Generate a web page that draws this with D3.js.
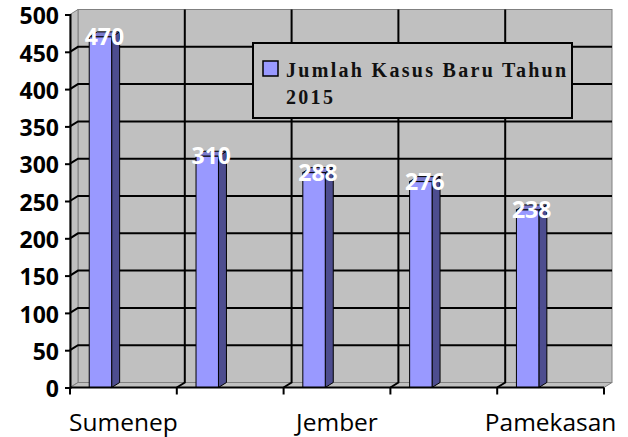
<!DOCTYPE html>
<html>
<head>
<meta charset="utf-8">
<script src="https://cdn.jsdelivr.net/npm/d3@7"></script>
<style>
  body { margin: 0; background: #fff; }
  svg { display: block; }
</style>
</head>
<body>
<svg width="628" height="437"></svg>
<script>
// Data.
const categories = ['Sumenep', 'Sampang', 'Jember', 'Bangkalan', 'Pamekasan'];
const cases = [470, 310, 288, 276, 238];
const shownLabels = ['Sumenep', 'Jember', 'Pamekasan'];
const yTickValues = [0, 50, 100, 150, 200, 250, 300, 350, 400, 450, 500];
const legendLines = ['Jumlah Kasus Baru Tahun', '2015'];

const data = categories.map((c, i) => ({ cat: c, value: cases[i] }));

// 1. Dimensions.
const plotLeft = 70, plotRight = 604, plotTop = 14.5, plotBottom = 387.5;
const dx = 8, dy = 5; // 3D depth offset
const wall = '#c0c0c0', wallEdge = '#808080';

const svg = d3.select('svg');

// 2. Scales.
const xScale = d3.scaleBand().domain(categories).range([plotLeft, plotRight]);
const yScale = d3.scaleLinear().domain([0, 500]).range([plotBottom, plotTop]);
const bw = xScale.bandwidth();

// 3. Walls.
svg.append('rect')
  .attr('x', plotLeft + dx).attr('y', plotTop - dy)
  .attr('width', plotRight - plotLeft).attr('height', plotBottom - plotTop)
  .attr('fill', wall).attr('stroke', wallEdge);

svg.append('polygon')
  .attr('points', [[plotLeft, plotTop], [plotLeft + dx, plotTop - dy], [plotLeft + dx, plotBottom - dy], [plotLeft, plotBottom]].join(' '))
  .attr('fill', wall).attr('stroke', wallEdge);

svg.append('polygon')
  .attr('points', [[plotLeft, plotBottom], [plotLeft + dx, plotBottom - dy], [plotRight + dx, plotBottom - dy], [plotRight, plotBottom]].join(' '))
  .attr('fill', wall).attr('stroke', wallEdge);

// Horizontal gridlines.
const grid = svg.append('g').attr('stroke', '#000').attr('stroke-width', 2).attr('fill', 'none');
grid.selectAll('path.h')
  .data(yTickValues.filter(v => v > 0 && v < 500))
  .enter()
  .append('path')
  .attr('d', v => `M${plotLeft},${yScale(v)}L${plotLeft + dx},${yScale(v) - dy}H${plotRight + dx}`);

// Vertical gridlines at category boundaries.
grid.selectAll('path.v')
  .data(categories.slice(1))
  .enter()
  .append('path')
  .attr('d', c => `M${xScale(c) + dx},${plotTop - dy}V${plotBottom - dy}L${xScale(c)},${plotBottom}`);

// 4. Bars.
const bx = d => xScale(d.cat) + bw * 0.18;
const bwid = bw * 0.21;

const bars = svg.append('g').attr('stroke', '#000').attr('stroke-width', 1);

bars.selectAll('polygon.side')
  .data(data)
  .enter()
  .append('polygon')
  .attr('fill', '#4d4d8f')
  .attr('points', d => {
    const x = bx(d) + bwid, y = yScale(d.value);
    return [[x, y], [x + dx, y - dy], [x + dx, plotBottom - dy], [x, plotBottom]].join(' ');
  });

bars.selectAll('polygon.top')
  .data(data)
  .enter()
  .append('polygon')
  .attr('fill', '#7a7acc')
  .attr('points', d => {
    const x = bx(d), y = yScale(d.value);
    return [[x, y], [x + dx, y - dy], [x + bwid + dx, y - dy], [x + bwid, y]].join(' ');
  });

bars.selectAll('rect')
  .data(data)
  .enter()
  .append('rect')
  .attr('fill', '#9999ff')
  .attr('x', bx)
  .attr('y', d => yScale(d.value))
  .attr('width', bwid)
  .attr('height', d => plotBottom - yScale(d.value));

// 5. Axes.
const yAxis = svg.append('g')
  .attr('transform', `translate(${plotLeft},0)`)
  .call(d3.axisLeft(yScale).tickValues(yTickValues).tickSize(5).tickPadding(6));
yAxis.select('.domain').attr('stroke-width', 2);
yAxis.selectAll('.tick line').attr('stroke-width', 2);
yAxis.selectAll('text')
  .attr('dy', '0.4em')
  .attr('font-family', 'Open Sans')
  .attr('font-weight', 'bold')
  .attr('font-size', 23)
  .attr('fill', '#000');

svg.append('path')
  .attr('d', `M${plotLeft},${plotBottom}H${plotRight}`)
  .attr('stroke', '#000').attr('stroke-width', 2);

svg.selectAll('line.xtick')
  .data(categories.concat(['end']))
  .enter()
  .append('line')
  .attr('x1', (c, i) => plotLeft + i * bw)
  .attr('x2', (c, i) => plotLeft + i * bw)
  .attr('y1', plotBottom)
  .attr('y2', plotBottom + 7)
  .attr('stroke', '#000').attr('stroke-width', 2);

svg.selectAll('text.xlab')
  .data(shownLabels)
  .enter()
  .append('text')
  .text(d => d)
  .attr('x', d => xScale(d) + bw / 2)
  .attr('y', 431)
  .attr('text-anchor', 'middle')
  .attr('font-family', 'Open Sans')
  .attr('font-size', 24.5)
  .attr('fill', '#000');

// 6. Data labels.
svg.selectAll('text.val')
  .data(data)
  .enter()
  .append('text')
  .text(d => d.value)
  .attr('x', d => bx(d) + (bwid + dx) / 2)
  .attr('y', d => yScale(d.value) + 8)
  .attr('text-anchor', 'middle')
  .attr('font-family', 'Open Sans')
  .attr('font-weight', 'bold')
  .attr('font-size', 23)
  .attr('fill', '#fff');

// 7. Legend.
const legend = svg.append('g');
legend.append('rect')
  .attr('x', 253).attr('y', 43).attr('width', 319).attr('height', 75)
  .attr('fill', wall).attr('stroke', '#000').attr('stroke-width', 2);
legend.append('rect')
  .attr('x', 263).attr('y', 61).attr('width', 15).attr('height', 15)
  .attr('fill', '#9999ff').attr('stroke', '#000').attr('stroke-width', 1.5);
legend.selectAll('text')
  .data(legendLines)
  .enter()
  .append('text')
  .text(d => d)
  .attr('x', 286)
  .attr('y', (d, i) => 77 + i * 27)
  .attr('font-family', 'Liberation Serif')
  .attr('font-weight', 'bold')
  .attr('font-size', 20)
  .attr('letter-spacing', 2.3)
  .attr('fill', '#111');
</script>
</body>
</html>
